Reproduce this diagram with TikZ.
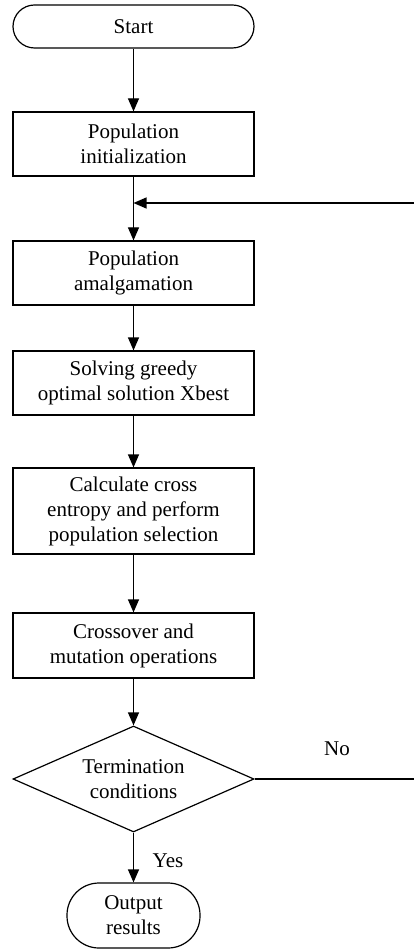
\documentclass[tikz,border=0pt]{standalone}
\usepackage{fontspec}
\setmainfont{Liberation Serif}
\usetikzlibrary{arrows.meta,shapes.geometric}
\begin{document}
\begin{tikzpicture}[x=1pt,y=1pt,
  every node/.style={font=\fontsize{21}{25}\selectfont, align=center},
  proc/.style={draw, line width=1.2pt, rectangle, minimum width=241pt, inner sep=0pt},
  term/.style={draw, line width=1.2pt, rectangle, rounded corners=#1, inner sep=0pt},
  dec/.style={draw, line width=1.2pt, diamond, shape aspect=2.27, inner sep=0pt, minimum width=241pt, minimum height=106pt},
  arr/.style={line width=1.2pt, -{Triangle[length=13pt,width=11pt]}},
  ln/.style={line width=1.2pt},
  lbl/.style={draw=none}]
\useasboundingbox (0,0) rectangle (413,-949);
\node[term=21.5pt, minimum width=241pt, minimum height=43pt] (start) at (133.5,-26.5) {Start};
\node[proc, minimum height=64pt] (b1) at (133.5,-144) {Population\\initialization};
\node[proc, minimum height=64pt] (b2) at (133.5,-273) {Population\\amalgamation};
\node[proc, minimum height=64pt] (b3) at (133.5,-383) {Solving greedy\\optimal solution Xbest};
\node[proc, minimum height=86pt] (b4) at (133.5,-511) {Calculate cross\\entropy and perform\\population selection};
\node[proc, minimum height=65pt] (b5) at (133.5,-645.5) {Crossover and\\mutation operations};
\node[dec] (d) at (133.5,-779) {Termination\\conditions};
\node[term=32pt, minimum width=133pt, minimum height=65pt] (out) at (133.5,-915.5) {Output\\results};
\coordinate (j) at (133.5,-203);
\coordinate (loopR) at (414,-203);
\coordinate (noR) at (414,-779);
\draw[arr] (start) -- (b1);
\draw[ln] (b1) -- (j);
\draw[arr] (j) -- (b2);
\draw[arr] (loopR) -- (j);
\draw[arr] (b2) -- (b3);
\draw[arr] (b3) -- (b4);
\draw[arr] (b4) -- (b5);
\draw[arr] (b5) -- (d);
\draw[arr] (d) -- (out);
\draw[ln] (d.east) -- (noR);
\node[lbl] (no) at (337,-749) {No};
\node[lbl] (yes) at (168,-861) {Yes};
\end{tikzpicture}
\end{document}
